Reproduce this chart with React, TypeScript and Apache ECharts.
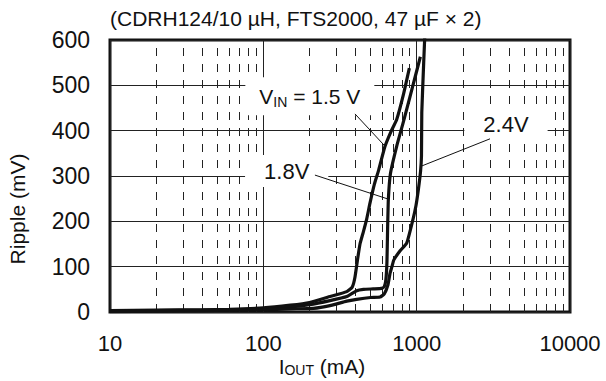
import React, { useEffect, useRef } from "react";
import * as echarts from "echarts";

// ---- data ----
const xTickLabels = ["10", "100", "1000", "10000"];
const yTickLabels = ["0", "100", "200", "300", "400", "500", "600"];
const xMinorGrid = [20, 30, 40, 50, 60, 70, 80, 90, 200, 300, 400, 500, 600, 700, 800, 900, 2000, 3000, 4000, 5000, 6000, 7000, 8000, 9000];

const vin15: number[][] = [
  [10, 3], [20, 4], [40, 5], [60, 6], [100, 9], [150, 15], [200, 21], [272, 34], [350, 45], [380, 55],
  [395, 75], [410, 112], [427, 150], [450, 178], [472, 205], [496, 240], [530, 282], [565, 313], [621, 365],
  [680, 398], [740, 424], [820, 480], [896, 538],
];
const vin18: number[][] = [
  [10, 2], [20, 3], [40, 4], [60, 5], [100, 7], [150, 11], [200, 16], [272, 25], [350, 34], [406, 47],
  [450, 50], [520, 51], [590, 52], [615, 56], [630, 72], [640, 110], [646, 180], [654, 250], [675, 306],
  [740, 365], [820, 420], [905, 475], [980, 520], [1057, 563],
];
const vin24: number[][] = [
  [10, 1], [20, 2], [40, 3], [60, 4], [100, 5], [150, 7], [212, 8], [272, 14], [350, 24], [406, 28],
  [500, 32], [577, 33], [615, 40], [650, 60], [670, 85], [690, 100], [710, 115], [780, 135], [861, 152],
  [947, 205], [990, 235], [1025, 269], [1060, 310], [1075, 345], [1080, 440], [1111, 549], [1135, 625],
];

const labelTexts = ["V{sub|IN} = 1.5 V", "1.8V", "2.4V"];
const labelAnchors = [[201, 476], [142, 311], [3824, 413]];
const leaderLines = [
  [[396, 437], [621, 366]],
  [[217, 302], [653, 249]],
  [[3008, 382], [1059, 321]],
];
const titleText = "(CDRH124/10 \u00b5H, FTS2000, 47 \u00b5F \u00d7 2)";

const FONT = "'Liberation Sans', Arial, Helvetica, sans-serif";
const INK = "#111";

export default function App() {
  const ref = useRef<HTMLDivElement>(null);
  useEffect(() => {
    if (!ref.current) return;
    const chart = echarts.init(ref.current, null, { renderer: "svg" });
    const labelPads = [[6, 14], [3, 19], [4, 19]];
    const option: any = {
      animation: false,
      backgroundColor: "#fff",
      title: {
        text: titleText,
        left: 110,
        top: 8,
        padding: 0,
        textStyle: { fontSize: 21, fontWeight: "normal", color: INK, fontFamily: FONT },
      },
      grid: {
        left: 110,
        right: 36,
        top: 40,
        bottom: 69,
        show: true,
        borderColor: INK,
        borderWidth: 3,
        backgroundColor: "transparent",
      },
      xAxis: {
        type: "log",
        logBase: 10,
        min: 10,
        max: 10000,
        axisLine: { show: false },
        axisTick: { show: false },
        axisLabel: {
          fontSize: 22,
          color: INK,
          fontFamily: FONT,
          margin: 20,
          formatter: (v: number) => {
            const i = Math.round(Math.log10(v)) - 1;
            return xTickLabels[i] ?? String(v);
          },
        },
        splitLine: { show: true, lineStyle: { color: "#222", width: 1 } },
      },
      yAxis: {
        type: "value",
        min: 0,
        max: 600,
        interval: 100,
        axisLine: { show: false },
        axisTick: { show: false },
        axisLabel: {
          fontSize: 23,
          color: INK,
          fontFamily: FONT,
          margin: 20,
          formatter: (v: number) => yTickLabels[Math.round(v / 100)] ?? String(v),
        },
        splitLine: { show: true, lineStyle: { color: "#222", width: 1 } },
      },
      series: [
        {
          type: "line",
          name: "1.5V",
          data: vin15,
          showSymbol: false,
          smooth: 0.15,
          z: 5,
          lineStyle: { color: INK, width: 3.2 },
          markLine: {
            silent: true,
            z: 1,
            symbol: ["none", "none"],
            label: { show: false },
            lineStyle: { color: "#222", width: 1, type: [8, 8] },
            data: xMinorGrid.map((v) => ({ xAxis: v })),
          },
        },
        {
          type: "line",
          name: "1.8V",
          data: vin18,
          showSymbol: false,
          smooth: 0.15,
          z: 5,
          lineStyle: { color: INK, width: 3.2 },
          markLine: {
            silent: true,
            z: 11,
            symbol: ["none", "none"],
            label: { show: false },
            lineStyle: { color: INK, width: 1, type: "solid" },
            data: leaderLines.map((seg) => [{ coord: seg[0] }, { coord: seg[1] }]),
          },
        },
        {
          type: "line",
          name: "2.4V",
          data: vin24,
          showSymbol: false,
          smooth: 0.15,
          z: 5,
          lineStyle: { color: INK, width: 3.2 },
          markPoint: {
            silent: true,
            z: 10,
            symbol: "circle",
            symbolSize: 1,
            itemStyle: { color: "rgba(0,0,0,0)" },
            data: labelTexts.map((t, i) => ({
              coord: labelAnchors[i],
              label: {
                show: true,
                position: "inside",
                formatter: t,
                fontSize: i === 0 ? 21 : 22,
                lineHeight: 26,
                color: INK,
                fontFamily: FONT,
                backgroundColor: "#fff",
                padding: labelPads[i],
                rich: {
                  sub: { fontSize: 14, lineHeight: 14, verticalAlign: "bottom", color: INK, fontFamily: FONT },
                },
              },
            })),
          },
        },
      ],
      graphic: [
        {
          type: "text",
          x: 322,
          y: 366,
          silent: true,
          style: {
            text: "I{sub|OUT} (mA)",
            fontSize: 21,
            lineHeight: 22,
            fontFamily: FONT,
            fill: INK,
            align: "center",
            verticalAlign: "middle",
            rich: {
              sub: { fontSize: 14, lineHeight: 12, verticalAlign: "bottom", fill: INK, fontFamily: FONT },
            },
          },
        },
        {
          type: "text",
          x: 17,
          y: 209,
          rotation: Math.PI / 2,
          silent: true,
          style: {
            text: "Ripple (mV)",
            fontSize: 21,
            fontFamily: FONT,
            fill: INK,
            align: "center",
            verticalAlign: "middle",
          },
        },
      ],
    };
    chart.setOption(option);
    return () => chart.dispose();
  }, []);
  return (
    <div
      ref={ref}
      style={{ position: "fixed", left: 0, top: 0, width: 606, height: 381, background: "#fff" }}
    />
  );
}
